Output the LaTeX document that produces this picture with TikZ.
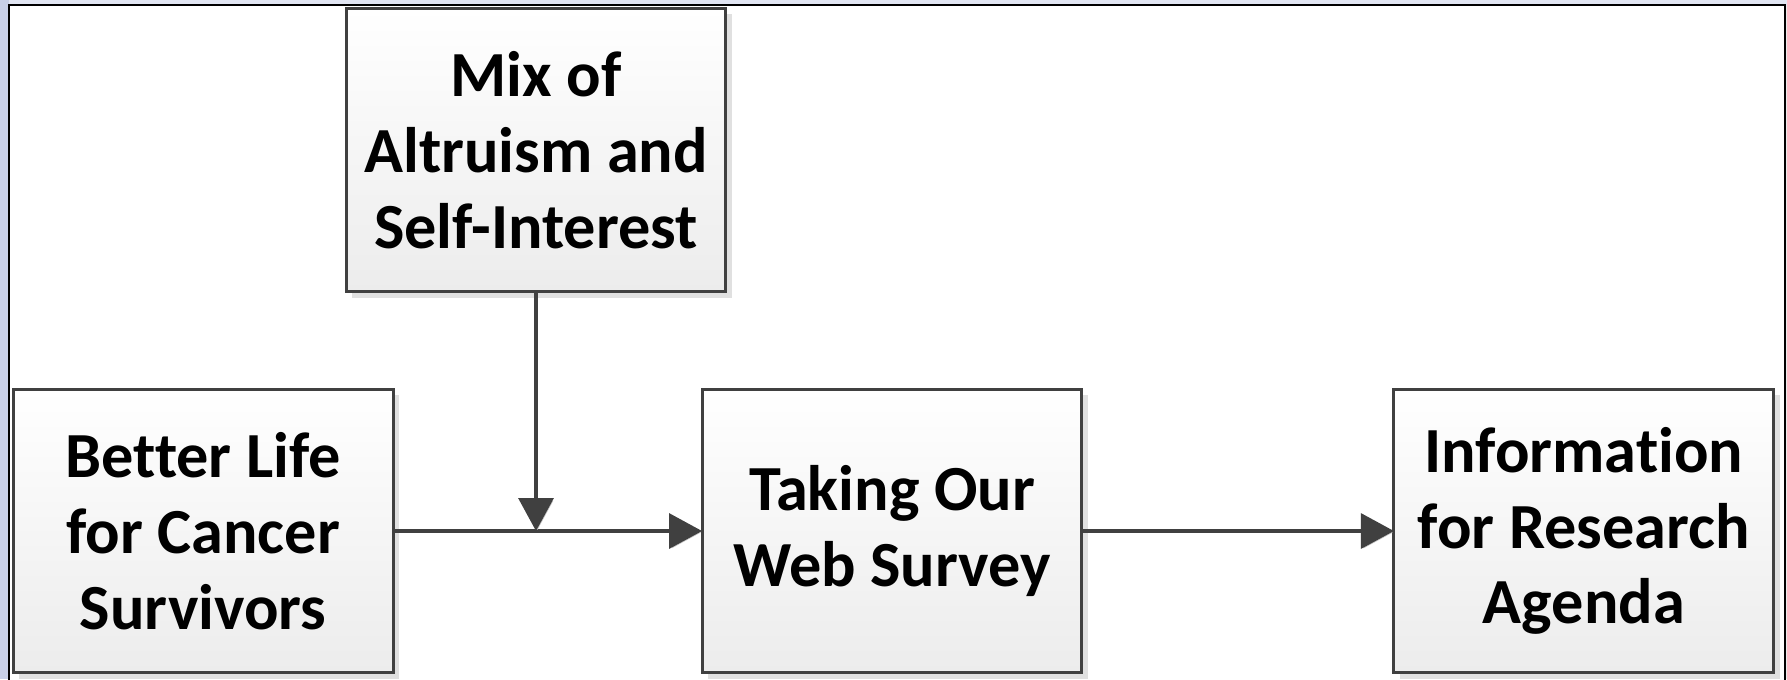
\documentclass[tikz,border=0pt]{standalone}
\usepackage{fontspec}
\setmainfont{Carlito}[Ligatures=CommonOff]
\usetikzlibrary{positioning,calc,arrows.meta,shadows}
\definecolor{lineGray}{HTML}{404040}
\definecolor{pageBlue}{HTML}{C8D0E8}
\definecolor{boxShade}{HTML}{ECECEC}
\tikzset{BOX/.style={rectangle,draw=lineGray,line width=0.06cm,outer sep=0pt,minimum width=7.6cm,minimum height=5.67cm,align=center,top color=white,bottom color=boxShade,drop shadow={shadow xshift=0.12cm,shadow yshift=-0.12cm,fill=black!12,opacity=1},font=\bfseries\fontsize{36.6pt}{43.1pt}\selectfont}}
\tikzset{ARROW/.style={lineGray,line width=0.065cm,-{Triangle[length=0.66cm,width=0.7cm]},preaction={draw=black!22,transform canvas={xshift=0.03cm,yshift=-0.03cm}}}}

\begin{document}
\begin{tikzpicture}[x=0.02cm,y=-0.02cm]
\useasboundingbox (0,0) rectangle (1787,679);
\clip (0,0) rectangle (1787,679);

% page behind the frame
\fill[pageBlue] (0,0) rectangle (1787,679);
\fill[pageBlue!55] (9,0) rectangle (1787,5);
\fill[black!8] (1786,5) rectangle (1787,679);
\draw[black,line width=0.04cm,fill=white] (9,5) rectangle (1785,700);

\node[BOX] (n_survey) at (892,531) {Taking Our\\Web Survey};
\node[BOX,left=6.18cm of n_survey] (n_life) {Better Life\\for Cancer\\Survivors};
\node[BOX,right=6.24cm of n_survey] (n_info) {Information\\for Research\\Agenda};
\node[BOX] (n_mix) at (536,150) {Mix of\\Altruism and\\Self-Interest};

\coordinate (c_join) at (n_mix.south |- n_life.east);
\draw[ARROW] (n_life.east) -- (n_survey.west);
\draw[ARROW] (n_mix.south) -- (c_join);
\draw[ARROW] (n_survey.east) -- (n_info.west);

\end{tikzpicture}
\end{document}
